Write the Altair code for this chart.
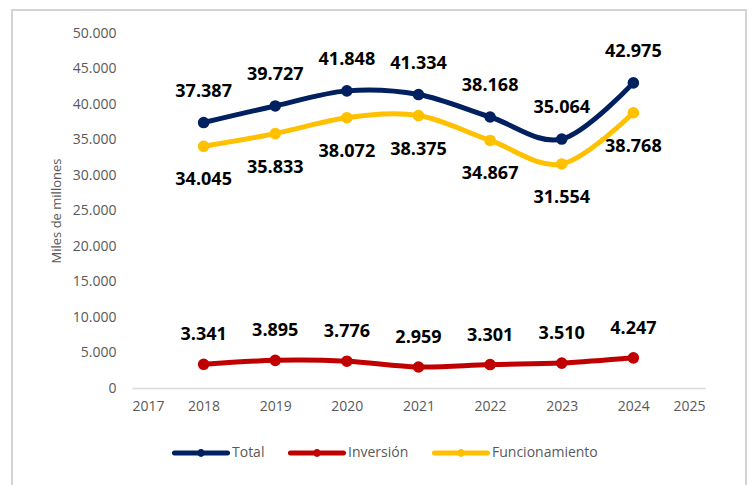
import altair as alt
import pandas as pd

years = [2018, 2019, 2020, 2021, 2022, 2023, 2024]
series_names = ["Total", "Inversión", "Funcionamiento"]
total = [37387, 39727, 41848, 41334, 38168, 35064, 42975]
inversion = [3341, 3895, 3776, 2959, 3301, 3510, 4247]
funcionamiento = [34045, 35833, 38072, 38375, 34867, 31554, 38768]
colors = ["#002060", "#C00000", "#FFC000"]
y_ticks = [0, 5000, 10000, 15000, 20000, 25000, 30000, 35000, 40000, 45000, 50000]
x_ticks = [2017, 2018, 2019, 2020, 2021, 2022, 2023, 2024, 2025]

rows = []
for name, col, vals in zip(series_names, colors, [total, inversion, funcionamiento]):
    for yr, v in zip(years, vals):
        rows.append({"anio": yr, "serie": name, "valor": v, "col": col})
df = pd.DataFrame(rows)

W, H = 573, 355
FONT = "Open Sans"
GRAY = "#595959"

color_scale = alt.Scale(domain=series_names, range=colors)

base = alt.Chart(df).encode(
    x=alt.X("anio:Q", scale=alt.Scale(domain=[2017, 2025], nice=False, zero=False),
            axis=alt.Axis(values=x_ticks, format="d", title=None, ticks=False, tickSize=0,
                          grid=False, domainColor="#D9D9D9", domainWidth=1.5,
                          labelPadding=11, labelFont=FONT, labelFontSize=14,
                          labelColor=GRAY)),
    y=alt.Y("valor:Q", scale=alt.Scale(domain=[0, 50000], nice=False),
            axis=alt.Axis(values=y_ticks, title="Miles de millones", domain=False,
                          ticks=False, tickSize=0, grid=False, labelPadding=16,
                          labelExpr="replace(format(datum.value, ','), ',', '.')",
                          labelFont=FONT, labelFontSize=14, labelColor=GRAY,
                          titleFont=FONT, titleFontSize=13, titleFontWeight="normal",
                          titleColor=GRAY, titlePadding=9)),
)

legend_path = ("M-0.95,-0.09 L0.95,-0.09 A0.09,0.09 0 0,1 0.95,0.09 "
               "L-0.95,0.09 A0.09,0.09 0 0,1 -0.95,-0.09 Z "
               "M0.14,0 A0.14,0.14 0 1,1 -0.14,0 A0.14,0.14 0 1,1 0.14,0 Z")

lines = base.mark_line(interpolate="cardinal", strokeWidth=5, strokeCap="round").encode(
    stroke=alt.Stroke("col:N", scale=None),
    detail="serie:N",
)

points = base.mark_circle(size=135, opacity=1).encode(
    color=alt.Color("serie:N", scale=color_scale,
                    legend=alt.Legend(title=None, orient="none", direction="horizontal",
                                      legendX=41, legendY=392,
                                      symbolType=legend_path, symbolSize=3136,
                                      symbolStrokeWidth=0, symbolOpacity=1,
                                      labelFont=FONT, labelFontSize=14,
                                      labelColor=GRAY, labelOffset=3,
                                      columnPadding=22)),
)

labels = []
for name, dy in zip(series_names, [-31, -29, 34]):
    labels.append(
        base.transform_filter(alt.datum.serie == name)
        .transform_calculate(lab="replace(format(datum.valor, ','), ',', '.')")
        .mark_text(font=FONT, fontSize=18, fontWeight="bold", color="#000000",
                   dy=dy, baseline="middle")
        .encode(text="lab:N")
    )

frame = alt.Chart(pd.DataFrame({"a": [0]})).mark_rect(
    fill="transparent", stroke="#D4D4D4", strokeWidth=2
).encode(x=alt.value(-120), x2=alt.value(614), y=alt.value(-23), y2=alt.value(470))

chart = alt.layer(frame, lines, points, *labels).properties(
    width=W, height=H,
    autosize=alt.AutoSizeParams(type="none"),
    padding={"left": 124, "top": 25, "right": 43, "bottom": 100},
).configure_view(stroke=None)

chart.save("out.html", embed_options={"renderer": "svg", "actions": False})
